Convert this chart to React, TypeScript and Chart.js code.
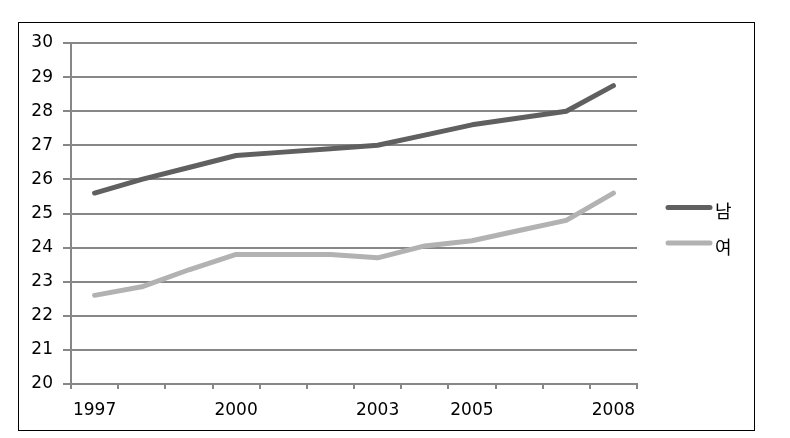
import React, { useEffect, useRef } from "react";
import { Chart, registerables } from "chart.js";

Chart.register(...registerables);

const years = ["1997", "1998", "1999", "2000", "2001", "2002", "2003", "2004", "2005", "2006", "2007", "2008"];
const labeledYears = ["1997", "2000", "2003", "2005", "2008"];
const male = [25.6, 26.0, 26.35, 26.7, 26.8, 26.9, 27.0, 27.3, 27.6, 27.8, 28.0, 28.75];
const female = [22.6, 22.85, 23.35, 23.8, 23.8, 23.8, 23.7, 24.05, 24.2, 24.5, 24.8, 25.6];
const seriesNames = ["남", "여"];
const seriesColors = ["#606060", "#b2b2b2"];
const yMin = 20;
const yMax = 30;
const yStep = 1;

const GRID = "#878787";
const FONT = "'DejaVu Sans', Verdana, sans-serif";

const frameAndLegend = {
  id: "frameAndLegend",
  afterDraw(chart: any) {
    const ctx = chart.ctx;
    ctx.save();
    ctx.strokeStyle = "#000";
    ctx.lineWidth = 1;
    ctx.strokeRect(18.5, 22.5, 736, 408);
    chart.data.datasets.forEach((ds: any, i: number) => {
      const y = 207.5 + i * 35.5;
      ctx.strokeStyle = ds.borderColor;
      ctx.lineWidth = 5;
      ctx.lineCap = "round";
      ctx.beginPath();
      ctx.moveTo(668, y);
      ctx.lineTo(710, y);
      ctx.stroke();
      ctx.fillStyle = "#000";
      ctx.font = "18px 'Noto Sans CJK KR', sans-serif";
      ctx.textBaseline = "middle";
      ctx.textAlign = "left";
      ctx.fillText(ds.label, 715, y + 4);
    });
    ctx.restore();
  },
};

export default function App() {
  const ref = useRef<HTMLCanvasElement>(null);
  useEffect(() => {
    const chart = new Chart(ref.current!, {
      type: "line",
      data: {
        labels: years,
        datasets: [
          {
            label: seriesNames[0],
            data: male,
            borderColor: seriesColors[0],
            backgroundColor: seriesColors[0],
            borderWidth: 5,
            pointRadius: 0,
            borderJoinStyle: "round",
            borderCapStyle: "round",
            tension: 0,
          },
          {
            label: seriesNames[1],
            data: female,
            borderColor: seriesColors[1],
            backgroundColor: seriesColors[1],
            borderWidth: 5,
            pointRadius: 0,
            borderJoinStyle: "round",
            borderCapStyle: "round",
            tension: 0,
          },
        ],
      },
      options: {
        animation: false,
        responsive: false,
        devicePixelRatio: 1,
        layout: { padding: { left: 18, top: 43, right: 153, bottom: 0 } },
        plugins: { legend: { display: false }, tooltip: { enabled: false } },
        scales: {
          x: {
            offset: true,
            grid: {
              display: true,
              drawOnChartArea: false,
              drawTicks: true,
              tickLength: 5,
              offset: true,
              color: GRID,
              lineWidth: 2,
            },
            border: { display: true, color: GRID, width: 2 },
            ticks: {
              autoSkip: false,
              maxRotation: 0,
              padding: 11,
              color: "#000",
              font: { family: FONT, size: 17 },
              callback: function (this: any, value: any) {
                const lab = this.getLabelForValue(value);
                return labeledYears.includes(lab) ? lab : "";
              },
            },
            afterFit: (scale: any) => {
              scale.height = 54;
            },
          },
          y: {
            min: yMin,
            max: yMax,
            grid: { color: GRID, lineWidth: 2, tickLength: 8, drawTicks: true },
            border: { display: true, color: GRID, width: 2 },
            ticks: {
              stepSize: yStep,
              padding: 10,
              color: "#000",
              font: { family: FONT, size: 17 },
            },
            afterFit: (scale: any) => {
              scale.width = 53;
            },
          },
        },
      },
      plugins: [frameAndLegend],
    });
    return () => chart.destroy();
  }, []);
  return (
    <div style={{ position: "fixed", left: 0, top: 0, width: 790, height: 438, background: "#fff" }}>
      <canvas ref={ref} width={790} height={438} style={{ width: 790, height: 438 }} />
    </div>
  );
}
